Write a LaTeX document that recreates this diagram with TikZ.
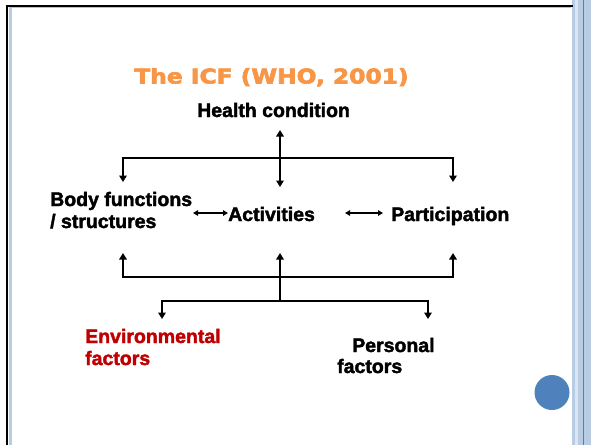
\documentclass[tikz,border=0pt]{standalone}
\usepackage{fontspec}
\setmainfont{Liberation Sans}[BoldFeatures={FakeBold=2}]
\newfontfamily\titlefont{DejaVu Sans}[BoldFeatures={FakeBold=3}]
\usetikzlibrary{arrows.meta}
\definecolor{titleorange}{HTML}{F79646}
\definecolor{envred}{HTML}{C00000}
\definecolor{accentblue}{HTML}{4F81BD}
\definecolor{bandblue}{HTML}{B8CCE4}
\definecolor{bandlight}{HTML}{DCE6F2}
\tikzset{
  lbl/.style={inner sep=0pt, anchor=base west, font=\fontsize{19.5}{22}\selectfont\bfseries},
  bar/.style={line width=2.6pt, line join=miter},
  tipped/.style={bar, {Triangle[length=6.5pt,width=7.5pt]}-{Triangle[length=6.5pt,width=7.5pt]}},
  uptip/.style={bar, -{Triangle[length=6.5pt,width=7.5pt]}},
  thinlink/.style={line width=1.4pt, {Triangle[length=5pt,width=5.5pt]}-{Triangle[length=5pt,width=5.5pt]}}
}
\begin{document}
\begin{tikzpicture}[x=1pt,y=-1pt]
\useasboundingbox (0,0) rectangle (591,445);
% slide frame
\fill[bandlight] (571.5,0) rectangle (591,445);
\fill[bandblue] (571.5,0) rectangle (574.5,445);
\fill[bandblue] (577.5,0) rectangle (591,445);
\draw[accentblue, line width=0.7pt] (583.3,0) -- (583.3,445);
\fill[bandblue] (9,7.5) rectangle (11.5,445);
\draw[black!25, line width=0.8pt] (9,7.8) -- (571,7.8);
\draw[black, line width=2.2pt] (7,5) -- (7,445);
\draw[black, line width=2.2pt] (5.9,6) -- (573,6);
\fill[accentblue] (552,392.5) circle (17.5);
% texts
\node[inner sep=0pt, anchor=base, text=titleorange] (title) at (271.5,83.5)
  {\scalebox{1.15}[1]{\titlefont\fontsize{20.3}{24}\selectfont\bfseries The ICF (WHO, 2001)}};
\node[lbl] (hc) at (197,117) {Health condition};
\node[lbl] (body1) at (50,206) {Body functions};
\node[lbl] (body2) at (50,228) {/ structures};
\node[lbl] (act) at (228,221) {Activities};
\node[lbl] (part) at (391,221) {Participation};
\node[lbl, text=envred] (env1) at (85,343) {Environmental};
\node[lbl, text=envred] (env2) at (85,365) {factors};
\node[lbl] (pers1) at (352,352) {Personal};
\node[lbl] (pers2) at (337,373) {factors};
% junction coordinates
\coordinate (hcTop) at (280,130);
\coordinate (hcBot) at (280,187);
\coordinate (ulTip) at (123,182);
\coordinate (ul) at (123,158);
\coordinate (ur) at (453,158);
\coordinate (urTip) at (453,182);
\coordinate (blTip) at (123,253);
\coordinate (bl) at (123,277);
\coordinate (br) at (453,277);
\coordinate (brTip) at (453,253);
\coordinate (midTip) at (280,253);
\coordinate (midLow) at (280,301);
\coordinate (el) at (162,301);
\coordinate (elTip) at (162,319);
\coordinate (er) at (428,301);
\coordinate (erTip) at (428,319);
\coordinate (a1) at (193,213);
\coordinate (a2) at (228,213);
\coordinate (b1) at (345,213);
\coordinate (b2) at (383,213);
% connectors
\draw[tipped] (hcTop) -- (hcBot);
\draw[tipped] (ulTip) -- (ul) -- (ur) -- (urTip);
\draw[tipped] (blTip) -- (bl) -- (br) -- (brTip);
\draw[uptip] (midLow) -- (midTip);
\draw[tipped] (elTip) -- (el) -- (er) -- (erTip);
\draw[thinlink] (a1) -- (a2);
\draw[thinlink] (b1) -- (b2);
\end{tikzpicture}
\end{document}
